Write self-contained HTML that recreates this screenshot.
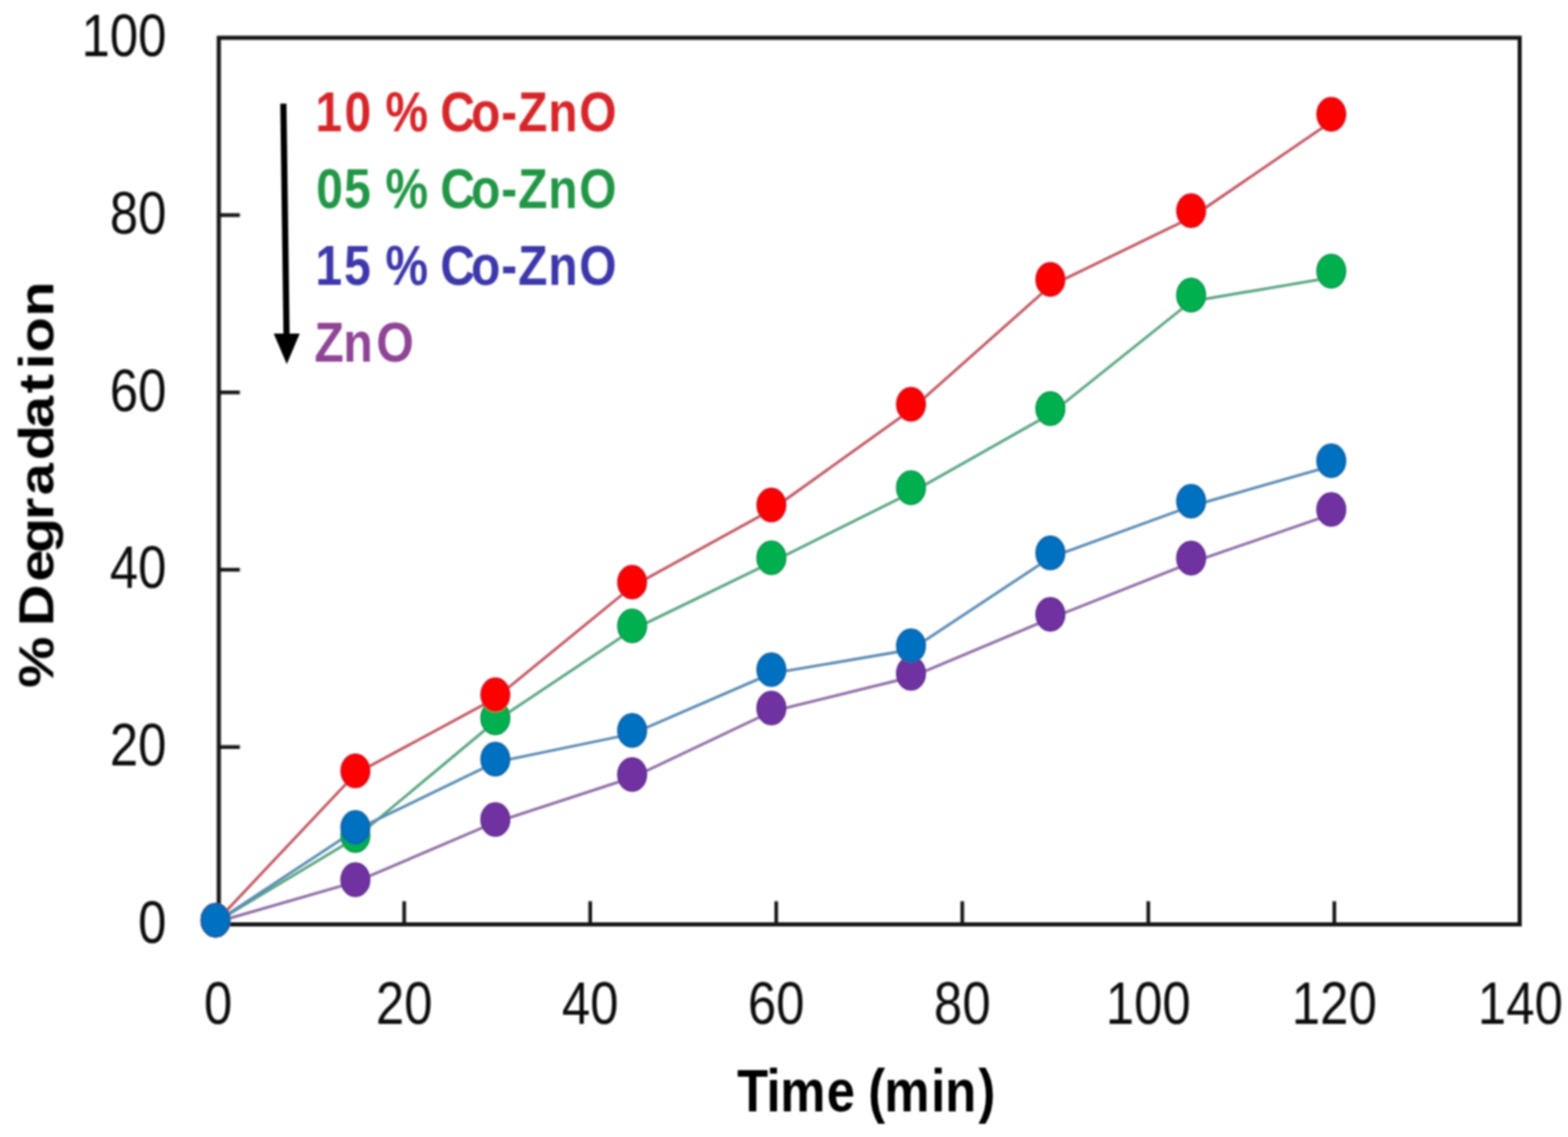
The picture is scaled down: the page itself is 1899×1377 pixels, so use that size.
<!DOCTYPE html>
<html><head><meta charset="utf-8"><title>% Degradation vs Time</title>
<style>html,body{margin:0;padding:0;background:#fff;overflow:hidden}svg{display:block}</style>
</head><body>
<svg width="1899" height="1377" viewBox="0 0 1899 1377">
<rect width="1899" height="1377" fill="#fff"/>
<defs><filter id="soft" x="0" y="0" width="1899" height="1377" filterUnits="userSpaceOnUse"><feGaussianBlur stdDeviation="0.9"/></filter></defs>
<g filter="url(#soft)">
<path d="M489.5 1119.5V1091.5 M714.8 1119.5V1091.5 M940.1 1119.5V1091.5 M1165.4 1119.5V1091.5 M1390.7 1119.5V1091.5 M1616.0 1119.5V1091.5 M265.0 904.8H290.5 M265.0 690.0H290.5 M265.0 475.3H290.5 M265.0 260.5H290.5" stroke="#161616" stroke-width="4.4" fill="none"/>
<rect x="265.0" y="45.8" width="1575.5" height="1073.7" fill="none" stroke="#161616" stroke-width="5.0"/>
<polyline points="261.0,1117.0 430.4,1068.2 599.9,995.8 765.6,941.7 934.2,861.7 1103.3,820.0 1272.1,749.0 1442.6,681.4 1612.3,622.9" fill="none" stroke="#9070A8" stroke-width="3.4" stroke-linejoin="round"/>
<polyline points="261.0,1117.0 430.4,1015.0 599.9,873.6 765.6,762.9 934.2,681.0 1103.3,596.7 1272.1,501.5 1442.6,365.0 1612.3,336.1" fill="none" stroke="#5BA684" stroke-width="3.4" stroke-linejoin="round"/>
<polyline points="261.0,1117.0 430.4,937.3 599.9,845.7 765.6,710.3 934.2,617.5 1103.3,496.3 1272.1,346.2 1442.6,263.5 1612.3,147.4" fill="none" stroke="#C25A66" stroke-width="3.4" stroke-linejoin="round"/>
<polyline points="261.0,1117.0 430.4,1005.3 599.9,923.2 765.6,888.8 934.2,815.6 1103.3,786.8 1272.1,675.2 1442.6,613.0 1612.3,564.3" fill="none" stroke="#5C8CB4" stroke-width="3.4" stroke-linejoin="round"/>
<ellipse cx="261.0" cy="1114.5" rx="17.4" ry="20.3" fill="#7030A0" stroke="#5E2A8A" stroke-width="1.6"/>
<ellipse cx="430.4" cy="1065.4" rx="17.4" ry="20.3" fill="#7030A0" stroke="#5E2A8A" stroke-width="1.6"/>
<ellipse cx="599.9" cy="992.5" rx="17.4" ry="20.3" fill="#7030A0" stroke="#5E2A8A" stroke-width="1.6"/>
<ellipse cx="765.6" cy="938.0" rx="17.4" ry="20.3" fill="#7030A0" stroke="#5E2A8A" stroke-width="1.6"/>
<ellipse cx="934.2" cy="857.5" rx="17.4" ry="20.3" fill="#7030A0" stroke="#5E2A8A" stroke-width="1.6"/>
<ellipse cx="1103.3" cy="815.5" rx="17.4" ry="20.3" fill="#7030A0" stroke="#5E2A8A" stroke-width="1.6"/>
<ellipse cx="1272.1" cy="744.0" rx="17.4" ry="20.3" fill="#7030A0" stroke="#5E2A8A" stroke-width="1.6"/>
<ellipse cx="1442.6" cy="675.9" rx="17.4" ry="20.3" fill="#7030A0" stroke="#5E2A8A" stroke-width="1.6"/>
<ellipse cx="1612.3" cy="617.0" rx="17.4" ry="20.3" fill="#7030A0" stroke="#5E2A8A" stroke-width="1.6"/>
<ellipse cx="261.0" cy="1114.5" rx="17.4" ry="20.3" fill="#00B050" stroke="#0A9048" stroke-width="1.6"/>
<ellipse cx="430.4" cy="1011.8" rx="17.4" ry="20.3" fill="#00B050" stroke="#0A9048" stroke-width="1.6"/>
<ellipse cx="599.9" cy="869.4" rx="17.4" ry="20.3" fill="#00B050" stroke="#0A9048" stroke-width="1.6"/>
<ellipse cx="765.6" cy="758.0" rx="17.4" ry="20.3" fill="#00B050" stroke="#0A9048" stroke-width="1.6"/>
<ellipse cx="934.2" cy="675.5" rx="17.4" ry="20.3" fill="#00B050" stroke="#0A9048" stroke-width="1.6"/>
<ellipse cx="1103.3" cy="590.6" rx="17.4" ry="20.3" fill="#00B050" stroke="#0A9048" stroke-width="1.6"/>
<ellipse cx="1272.1" cy="494.8" rx="17.4" ry="20.3" fill="#00B050" stroke="#0A9048" stroke-width="1.6"/>
<ellipse cx="1442.6" cy="357.4" rx="17.4" ry="20.3" fill="#00B050" stroke="#0A9048" stroke-width="1.6"/>
<ellipse cx="1612.3" cy="328.3" rx="17.4" ry="20.3" fill="#00B050" stroke="#0A9048" stroke-width="1.6"/>
<ellipse cx="261.0" cy="1114.5" rx="17.4" ry="20.3" fill="#FF0000" stroke="#CC1020" stroke-width="1.6"/>
<ellipse cx="430.4" cy="933.6" rx="17.4" ry="20.3" fill="#FF0000" stroke="#CC1020" stroke-width="1.6"/>
<ellipse cx="599.9" cy="841.3" rx="17.4" ry="20.3" fill="#FF0000" stroke="#CC1020" stroke-width="1.6"/>
<ellipse cx="765.6" cy="705.0" rx="17.4" ry="20.3" fill="#FF0000" stroke="#CC1020" stroke-width="1.6"/>
<ellipse cx="934.2" cy="611.6" rx="17.4" ry="20.3" fill="#FF0000" stroke="#CC1020" stroke-width="1.6"/>
<ellipse cx="1103.3" cy="489.6" rx="17.4" ry="20.3" fill="#FF0000" stroke="#CC1020" stroke-width="1.6"/>
<ellipse cx="1272.1" cy="338.4" rx="17.4" ry="20.3" fill="#FF0000" stroke="#CC1020" stroke-width="1.6"/>
<ellipse cx="1442.6" cy="255.2" rx="17.4" ry="20.3" fill="#FF0000" stroke="#CC1020" stroke-width="1.6"/>
<ellipse cx="1612.3" cy="138.3" rx="17.4" ry="20.3" fill="#FF0000" stroke="#CC1020" stroke-width="1.6"/>
<ellipse cx="261.0" cy="1114.5" rx="17.4" ry="20.3" fill="#0070C0" stroke="#1060A0" stroke-width="1.6"/>
<ellipse cx="430.4" cy="1002.0" rx="17.4" ry="20.3" fill="#0070C0" stroke="#1060A0" stroke-width="1.6"/>
<ellipse cx="599.9" cy="919.4" rx="17.4" ry="20.3" fill="#0070C0" stroke="#1060A0" stroke-width="1.6"/>
<ellipse cx="765.6" cy="884.7" rx="17.4" ry="20.3" fill="#0070C0" stroke="#1060A0" stroke-width="1.6"/>
<ellipse cx="934.2" cy="811.0" rx="17.4" ry="20.3" fill="#0070C0" stroke="#1060A0" stroke-width="1.6"/>
<ellipse cx="1103.3" cy="782.0" rx="17.4" ry="20.3" fill="#0070C0" stroke="#1060A0" stroke-width="1.6"/>
<ellipse cx="1272.1" cy="669.7" rx="17.4" ry="20.3" fill="#0070C0" stroke="#1060A0" stroke-width="1.6"/>
<ellipse cx="1442.6" cy="607.0" rx="17.4" ry="20.3" fill="#0070C0" stroke="#1060A0" stroke-width="1.6"/>
<ellipse cx="1612.3" cy="558.0" rx="17.4" ry="20.3" fill="#0070C0" stroke="#1060A0" stroke-width="1.6"/>
<text transform="translate(201.6 1141.8) scale(0.845 1)" text-anchor="end" font-family="'Liberation Sans', Arial, sans-serif" font-size="73" fill="#111">0</text>
<text transform="translate(201.6 927.1) scale(0.845 1)" text-anchor="end" font-family="'Liberation Sans', Arial, sans-serif" font-size="73" fill="#111">20</text>
<text transform="translate(201.6 712.3) scale(0.845 1)" text-anchor="end" font-family="'Liberation Sans', Arial, sans-serif" font-size="73" fill="#111">40</text>
<text transform="translate(201.6 497.6) scale(0.845 1)" text-anchor="end" font-family="'Liberation Sans', Arial, sans-serif" font-size="73" fill="#111">60</text>
<text transform="translate(201.6 282.8) scale(0.845 1)" text-anchor="end" font-family="'Liberation Sans', Arial, sans-serif" font-size="73" fill="#111">80</text>
<text transform="translate(201.6 68.1) scale(0.845 1)" text-anchor="end" font-family="'Liberation Sans', Arial, sans-serif" font-size="73" fill="#111">100</text>
<text transform="translate(264.2 1240.4) scale(0.845 1)" text-anchor="middle" font-family="'Liberation Sans', Arial, sans-serif" font-size="73" fill="#111">0</text>
<text transform="translate(489.5 1240.4) scale(0.845 1)" text-anchor="middle" font-family="'Liberation Sans', Arial, sans-serif" font-size="73" fill="#111">20</text>
<text transform="translate(714.8 1240.4) scale(0.845 1)" text-anchor="middle" font-family="'Liberation Sans', Arial, sans-serif" font-size="73" fill="#111">40</text>
<text transform="translate(940.1 1240.4) scale(0.845 1)" text-anchor="middle" font-family="'Liberation Sans', Arial, sans-serif" font-size="73" fill="#111">60</text>
<text transform="translate(1165.4 1240.4) scale(0.845 1)" text-anchor="middle" font-family="'Liberation Sans', Arial, sans-serif" font-size="73" fill="#111">80</text>
<text transform="translate(1390.7 1240.4) scale(0.845 1)" text-anchor="middle" font-family="'Liberation Sans', Arial, sans-serif" font-size="73" fill="#111">100</text>
<text transform="translate(1616.0 1240.4) scale(0.845 1)" text-anchor="middle" font-family="'Liberation Sans', Arial, sans-serif" font-size="73" fill="#111">120</text>
<text transform="translate(1841.3 1240.4) scale(0.845 1)" text-anchor="middle" font-family="'Liberation Sans', Arial, sans-serif" font-size="73" fill="#111">140</text>
<text transform="translate(893 1346) scale(0.85 1)" x="-0.4 41.6 61.1 127.3 137.3 186.6 209.5 276.1 296.1 343.5" font-family="'Liberation Sans', Arial, sans-serif" font-weight="bold" font-size="72.3" fill="#000">Time (min)</text>
<text transform="translate(64.5 831) rotate(-90) scale(1.178 1)" x="-1.9 18.1 61.7 107.6 136.8 170.7 196.2 232.2 265.5 301.1 325.7 343.0 379.9" font-family="'Liberation Sans', Arial, sans-serif" font-weight="bold" font-size="59.4" fill="#000">% Degradation</text>
<text transform="translate(382.6 159.0) scale(0.855 1)" x="-0.7 40.5 50.5 98.4 108.4 176.1 219.8 262.5 286.4 329.0 373.1" font-family="'Liberation Sans', Arial, sans-serif" font-weight="bold" font-size="68" fill="#D7262B">10 % Co-ZnO</text>
<text transform="translate(382.6 252.3) scale(0.855 1)" x="0.5 39.9 49.9 98.4 108.4 176.1 219.8 262.5 286.4 329.0 373.1" font-family="'Liberation Sans', Arial, sans-serif" font-weight="bold" font-size="68" fill="#239646">05 % Co-ZnO</text>
<text transform="translate(382.6 345.0) scale(0.855 1)" x="-0.7 39.9 49.9 98.4 108.4 176.1 219.8 262.5 286.4 329.0 373.1" font-family="'Liberation Sans', Arial, sans-serif" font-weight="bold" font-size="68" fill="#3C37AA">15 % Co-ZnO</text>
<text transform="translate(382.6 437.9) scale(0.86 1)" x="-2.3 38.6 85.2" font-family="'Liberation Sans', Arial, sans-serif" font-weight="bold" font-size="68" fill="#8F4596">ZnO</text>
<path d="M343.2 125.5 L347 405" stroke="#000" stroke-width="7.5" fill="none"/>
<path d="M331.5 404 L363 404 L347.3 441 Z" fill="#000"/>
</g>
</svg>
</body></html>
